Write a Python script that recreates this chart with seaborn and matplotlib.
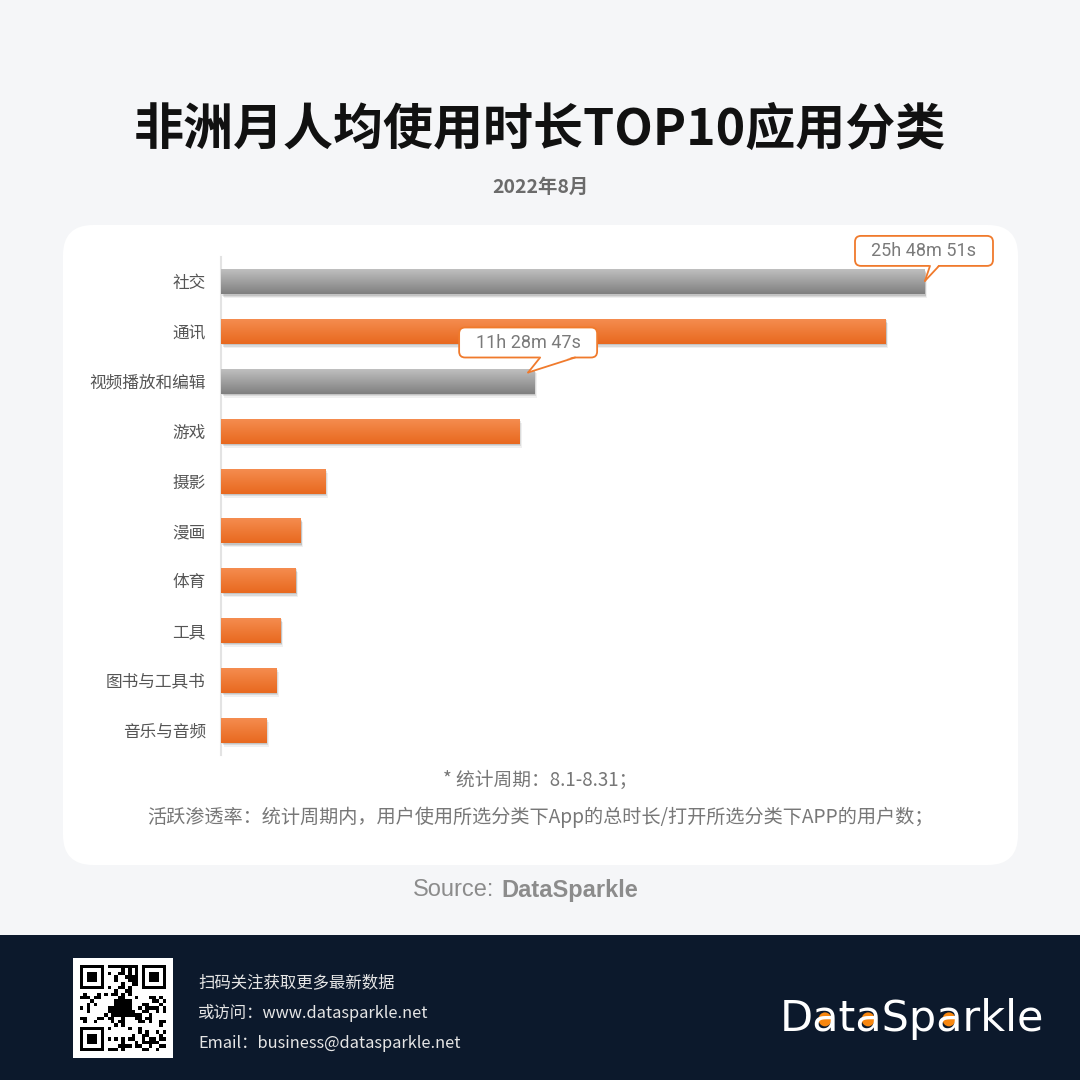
# 非洲月人均使用时长TOP10应用分类 - ricostruzione con seaborn
import numpy as np
import matplotlib.pyplot as plt
import matplotlib.patches as mpatches
import matplotlib.transforms as mtransforms
import seaborn as sns

# dati (ore medie mensili per utente)
categories = ["社交", "通讯", "视频播放和编辑", "游戏", "摄影", "漫画", "体育", "工具", "图书与工具书", "音乐与音频"]
hours = [25.81, 24.37, 11.48, 10.95, 3.83, 2.93, 2.74, 2.19, 2.03, 1.65]
highlight = [True, False, True, False, False, False, False, False, False, False]
callout_labels = {"社交": "25h 48m 51s", "视频播放和编辑": "11h 28m 47s"}

title = "非洲月人均使用时长TOP10应用分类"
subtitle = "2022年8月"
notes = ["* 统计周期：8.1-8.31；",
         "活跃渗透率：统计周期内，用户使用所选分类下App的总时长/打开所选分类下APP的用户数；"]
footer_lines = ["扫码关注获取更多最新数据", "或访问：www.datasparkle.net", "Email：business@datasparkle.net"]
logo = "DataSparkle"

# colori
BG = "#f5f6f8"
NAVY = "#0c192c"
ORANGE_TOP, ORANGE_BOT = np.array([0.96, 0.55, 0.31]), np.array([0.91, 0.41, 0.12])
GRAY_TOP, GRAY_BOT = np.array([0.75, 0.75, 0.75]), np.array([0.50, 0.50, 0.50])
CALLOUT_EDGE = "#f07a2c"

sns.set_style("white")
plt.rcParams["font.family"] = ["Noto Sans CJK SC", "DejaVu Sans"]

W = 1080
fig = plt.figure(figsize=(10.8, 10.8), dpi=100, facecolor=BG)


def fx(px):
    return px / W


def fy(py):
    return 1 - py / W


# pannello bianco arrotondato
panel = mpatches.FancyBboxPatch((fx(63), fy(865)), fx(1018 - 63), (865 - 225) / W,
                                boxstyle="round,pad=0,rounding_size=0.028",
                                transform=fig.transFigure, fc="white", ec="none", zorder=-2)
fig.add_artist(panel)

# titolo e sottotitolo
fig.text(0.5, fy(130), title, ha="center", va="center", fontsize=36, fontweight="bold", color="#111111")
fig.text(0.5, fy(187), subtitle, ha="center", va="center", fontsize=14, fontweight="bold", color="#6b6b6b")

# il grafico vero e proprio
ax = fig.add_axes([fx(221), fy(755), fx(1000 - 221), (755 - 257) / W])
ax.set_facecolor("none")
palette = {c: ("#999999" if h else "#ee7a35") for c, h in zip(categories, highlight)}
sns.barplot(x=hours, y=categories, hue=categories, palette=palette, legend=False,
            width=0.5, orient="h", ax=ax)

# barre con sfumatura e ombra
grad = np.linspace(0, 1, 64)[:, None, None]
for p in list(ax.patches):
    x0, y0, w, h = p.get_x(), p.get_y(), p.get_width(), p.get_height()
    idx = int(round(y0 + h / 2))
    top, bot = (GRAY_TOP, GRAY_BOT) if highlight[idx] else (ORANGE_TOP, ORANGE_BOT)
    rgb = top * (1 - grad) + bot * grad
    p.set_visible(False)
    for (dx, dy, a) in [(0.025, -0.04, 0.06), (0.015, -0.025, 0.09), (0.008, -0.012, 0.10)]:
        sh = mpatches.Rectangle((x0, y0), w, h, fc="black", ec="none", alpha=a, zorder=2,
                                transform=ax.transData + mtransforms.ScaledTranslation(dx, dy, fig.dpi_scale_trans))
        ax.add_patch(sh)
    ax.imshow(rgb, extent=(x0, x0 + w, y0 + h, y0), origin="upper", aspect="auto",
              interpolation="bilinear", zorder=3)
ax.set_xlim(0, 28.56)
ax.set_ylim(9.5, -0.5)

sns.despine(ax=ax, left=False, bottom=True)
ax.spines["left"].set_color("#e3e3e3")
ax.spines["left"].set_linewidth(1.5)
ax.set_xticks([])
ax.set_xlabel("")
ax.set_ylabel("")
ax.tick_params(axis="y", length=0, pad=11, labelsize=12, labelcolor="#555555")

# fumetti con i valori
callout_style = {"社交": dict(tip_dx=0, tip_dy=1, box_dx=-1, base=(5, 14)),
                 "视频播放和编辑": dict(tip_dx=-6, tip_dy=9, box_dx=-6, base=(6, 41))}
ident = mtransforms.IdentityTransform()
for cat, label in callout_labels.items():
    i = categories.index(cat)
    st = callout_style[cat]
    bx, by = ax.transData.transform((hours[i], i))
    tx, ty = bx + st["tip_dx"], by + st["tip_dy"]
    cx, cy = bx + st["box_dx"], ty + 30
    box = mpatches.FancyBboxPatch((cx - 69, cy - 15), 138, 30,
                                  boxstyle="round,pad=0,rounding_size=6",
                                  transform=ident, fc="white", ec=CALLOUT_EDGE, lw=1.3, zorder=10)
    fig.add_artist(box)
    bl, br = bx + st["base"][0], bx + st["base"][1]
    bb = cy - 15
    tail = mpatches.Polygon([(bl, bb + 1.5), (br, bb + 1.5), (tx, ty)], closed=True,
                            transform=ident, fc="white", ec="none", zorder=11)
    fig.add_artist(tail)
    for xb in (bl, br):
        fig.add_artist(plt.Line2D([xb, tx], [bb, ty], transform=ident, color=CALLOUT_EDGE,
                                  lw=1.3, zorder=12, solid_capstyle="round"))
    fig.text(cx, cy, label, transform=ident, ha="center", va="center", fontsize=13,
             color="#7a7a7a", family="Roboto", zorder=13)

# note in fondo al pannello
fig.text(0.5, fy(780), notes[0], ha="center", va="center", fontsize=13.5, color="#777777")
fig.text(0.5, fy(817), notes[1], ha="center", va="center", fontsize=13.8, color="#777777")

# fonte
fig.text(fx(494), fy(890), "Source:", ha="right", va="center", fontsize=17, color="#8c8c8c",
         family="Liberation Sans")
fig.text(fx(501), fy(890), "DataSparkle", ha="left", va="center", fontsize=17, color="#8c8c8c",
         family="Liberation Sans", fontweight="bold")

# fascia blu in basso
fig.add_artist(mpatches.Rectangle((0, 0), 1, 145 / W, transform=fig.transFigure,
                                  fc=NAVY, ec="none", zorder=-2))

# riquadro QR decorativo
fig.add_artist(mpatches.Rectangle((fx(73), fy(1058)), 100 / W, 100 / W, transform=fig.transFigure,
                                  fc="white", ec="none", zorder=-1))
n = 25
ii, jj = np.meshgrid(np.arange(n), np.arange(n), indexing="ij")
qr = (((ii * 7 + jj * 3) ^ (ii * jj)) % 3 == 0).astype(float)
for (r, c) in [(0, 0), (0, n - 7), (n - 7, 0)]:
    r0, c0 = max(r - 1, 0), max(c - 1, 0)
    qr[r0:r0 + 8, c0:c0 + 8] = 0
    qr[r:r + 7, c:c + 7] = 1
    qr[r + 1:r + 6, c + 1:c + 6] = 0
    qr[r + 2:r + 5, c + 2:c + 5] = 1
qr[10:15, 10:15] = 1
qax = fig.add_axes([fx(80), fy(1051), 86 / W, 86 / W])
qax.imshow(qr, cmap="gray_r", interpolation="nearest")
qax.axis("off")
qax.set_zorder(5)

for k, line in enumerate(footer_lines):
    fig.text(fx(198), fy(983 + 30 * k), line, ha="left", va="center", fontsize=11.8, color="#e6e6e6")

# logo con le "a" arancioni (il punto arancione sta dentro l'occhiello della a)
logo_kw = dict(fontsize=31, family="DejaVu Sans")
baseline_px = fy(1031) * W
fig.text(fx(780), fy(1031), logo, ha="left", va="baseline", color="white", zorder=3, **logo_kw)
renderer = fig.canvas.get_renderer()
em_px = 31 * fig.dpi / 72
x_start = fx(780) * W
for k, ch in enumerate(logo):
    if ch != "a":
        continue
    t_pre = fig.text(0, 0, logo[:k], **logo_kw)
    t_ch = fig.text(0, 0, "a", **logo_kw)
    w_pre = t_pre.get_window_extent(renderer).width if k else 0
    w_ch = t_ch.get_window_extent(renderer).width
    t_pre.remove()
    t_ch.remove()
    cxp = x_start + w_pre + w_ch * 0.45
    cyp = baseline_px + 0.27 * em_px
    fig.add_artist(mpatches.Ellipse((cxp, cyp), 13, 14, transform=ident, fc="#f7860f",
                                    ec="none", zorder=2))

fig.savefig("out.png", dpi=100, facecolor=BG)
